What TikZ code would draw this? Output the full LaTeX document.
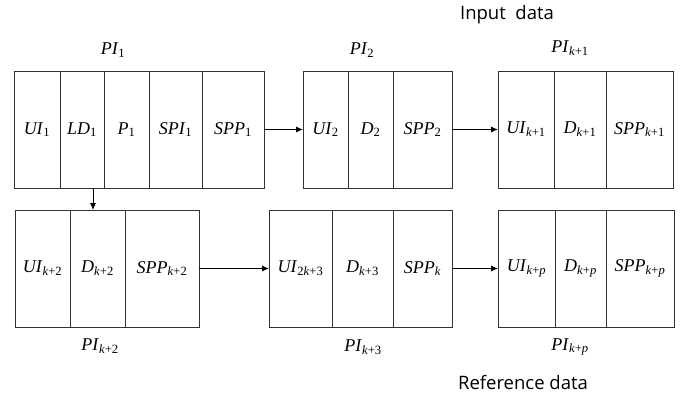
\documentclass[tikz,border=0pt]{standalone}
\usepackage{fontspec}
\setmainfont{Liberation Serif}
\newfontfamily\timesfont{Liberation Serif}
\newfontfamily\capfont{Open Sans}
\usetikzlibrary{arrows.meta,positioning}
\newcommand{\pv}[2]{\textit{#1}\textsubscript{#2}}
\newcommand{\kk}{\textit{k}}

\begin{document}
\begin{tikzpicture}[x=1pt,y=-1pt,
    cell/.style={draw=black!80, line width=0.9pt, minimum width=#1,
                 minimum height=117, inner sep=0, outer sep=0,
                 font=\timesfont\fontsize{18}{21}\selectfont},
    pilabel/.style={font=\timesfont\fontsize{18}{21}\selectfont},
    heading/.style={font=\capfont\fontsize{18.5}{22}\selectfont},
    link/.style={-{Latex[length=7,width=6]}, line width=0.9pt}]
  \useasboundingbox (0,0) rectangle (680,396);

  % premier paquet PI_1
  \node[cell=46, anchor=north west] (ui1) at (14,71) {\pv{UI}{1}};
  \node[cell=44, right=0pt of ui1]  (ld1)  {\pv{LD}{1}};
  \node[cell=45, right=0pt of ld1]  (p1)   {\pv{P}{1}};
  \node[cell=53, right=0pt of p1]   (spi1) {\pv{SPI}{1}};
  \node[cell=62, right=0pt of spi1] (spp1) {\pv{SPP}{1}};
  % paquet PI_2
  \node[cell=45, anchor=north west] (ui2) at (303,71) {\pv{UI}{2}};
  \node[cell=45, right=0pt of ui2]  (d2)   {\pv{D}{2}};
  \node[cell=59, right=0pt of d2]   (spp2) {\pv{SPP}{2}};
  % paquet PI_{k+1}
  \node[cell=56, anchor=north west] (uik1) at (498,71) {\pv{UI}{\kk+1}};
  \node[cell=52, right=0pt of uik1] (dk1)   {\pv{D}{\kk+1}};
  \node[cell=67, right=0pt of dk1]  (sppk1) {\pv{SPP}{\kk+1}};

  % seconde rangee
  \node[cell=55, anchor=north west] (uik2) at (15,210) {\pv{UI}{\kk+2}};
  \node[cell=55, right=0pt of uik2] (dk2)   {\pv{D}{\kk+2}};
  \node[cell=74, right=0pt of dk2]  (sppk2) {\pv{SPP}{\kk+2}};
  \node[cell=63, anchor=north west] (uik3) at (269,210) {\pv{UI}{2\kk+3}};
  \node[cell=61, right=0pt of uik3] (dk3)   {\pv{D}{\kk+3}};
  \node[cell=59, right=0pt of dk3]  (sppk)  {\pv{SPP}{\kk}};
  \node[cell=57, anchor=north west] (uikp) at (498,210) {\pv{UI}{\kk+\textit{p}}};
  \node[cell=51, right=0pt of uikp] (dkp)   {\pv{D}{\kk+\textit{p}}};
  \node[cell=68, right=0pt of dkp]  (sppkp) {\pv{SPP}{\kk+\textit{p}}};

  % etiquettes
  \node[pilabel] (pi1)  at (113,50)  {\pv{PI}{1}};
  \node[pilabel] (pi2)  at (362,50)  {\pv{PI}{2}};
  \node[pilabel] (pik1) at (570,48)  {\pv{PI}{\kk+1}};
  \node[pilabel] (pik2) at (100,346) {\pv{PI}{\kk+2}};
  \node[pilabel] (pik3) at (363,347) {\pv{PI}{\kk+3}};
  \node[pilabel] (pikp) at (570,347) {\pv{PI}{\kk+\textit{p}}};
  \node[heading] (input) at (507,15)  {Input\ \ data};
  \node[heading] (refer) at (523,383) {Reference data};

  % fleches
  \draw[link] (spp1.east) -- (ui2.west);
  \draw[link] (spp2.east) -- (uik1.west);
  \draw[link] (sppk2.east) -- (uik3.west);
  \draw[link] (sppk.east) -- (uikp.west);
  \draw[link] ([xshift=11]ld1.south) -- ([xshift=11]ld1.south |- dk2.north);
\end{tikzpicture}
\end{document}
